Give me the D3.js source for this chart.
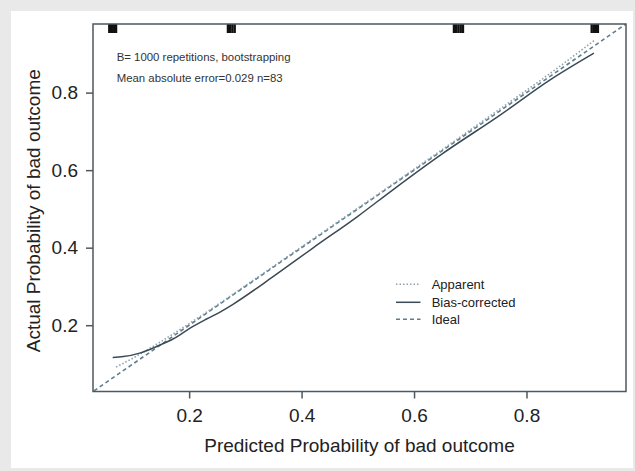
<!DOCTYPE html>
<html><head><meta charset="utf-8">
<script src="https://cdn.jsdelivr.net/npm/d3@7"></script>
<style>
html,body{margin:0;padding:0;background:#e9e9e9;}
svg{display:block;font-family:"Liberation Sans",Arial,sans-serif;}
</style></head>
<body>
<script>
// ---- data ----
const xTicks = [0.2, 0.4, 0.6, 0.8];
const yTicks = [0.2, 0.4, 0.6, 0.8];
const apparentX = [0.07, 0.10, 0.15, 0.20, 0.27, 0.35, 0.45, 0.55, 0.65, 0.75, 0.85, 0.92];
const apparentY = [0.092, 0.115, 0.158, 0.204, 0.272, 0.352, 0.452, 0.552, 0.653, 0.755, 0.858, 0.934];
const biasX = [0.064, 0.083, 0.112, 0.142, 0.172, 0.201, 0.231, 0.255, 0.278, 0.35, 0.42, 0.50, 0.563, 0.65, 0.753, 0.842, 0.92];
const biasY = [0.117, 0.119, 0.128, 0.145, 0.165, 0.192, 0.216, 0.234, 0.254, 0.326, 0.399, 0.481, 0.550, 0.642, 0.742, 0.833, 0.902];
const idealX = [0, 1];
const rugX = [0.058, 0.061, 0.064, 0.067, 0.070, 0.269, 0.273, 0.277, 0.281,
              0.671, 0.675, 0.679, 0.683, 0.687, 0.916, 0.920, 0.924, 0.927];
const legendLabels = ["Apparent", "Bias-corrected", "Ideal"];
const annotations = ["B= 1000 repetitions, bootstrapping", "Mean absolute error=0.029 n=83"];
const xTitle = "Predicted Probability of bad outcome";
const yTitle = "Actual Probability of bad outcome";

const W = 635, H = 471;
const svg = d3.select("body").append("svg").attr("width", W).attr("height", H);
svg.append("rect").attr("x", 0).attr("y", 0).attr("width", W).attr("height", H).attr("fill", "#e9e9e9");
svg.append("rect").attr("x", 11).attr("y", 11).attr("width", 622).attr("height", 457).attr("fill", "#ffffff");

const L = 93, R = 626, T = 24, B = 391.5;
const x = d3.scaleLinear().domain([0.029, 0.977]).range([L, R]);
const y = d3.scaleLinear().domain([0.029, 0.977]).range([B, T]);

const frameCol = "#4d5860";
const textCol = "#222";

svg.append("clipPath").attr("id", "clip").append("rect")
  .attr("x", L).attr("y", T).attr("width", R - L).attr("height", B - T);

const g = svg.append("g").attr("clip-path", "url(#clip)");

// ideal
g.append("path")
  .datum(idealX)
  .attr("d", d3.line().x(d => x(d)).y(d => y(d)))
  .attr("fill", "none").attr("stroke", "#5f7d8c").attr("stroke-width", 1.6)
  .attr("stroke-dasharray", "4,3");

// apparent
g.append("path")
  .datum(apparentX.map((v, i) => [v, apparentY[i]]))
  .attr("d", d3.line().x(d => x(d[0])).y(d => y(d[1])).curve(d3.curveMonotoneX))
  .attr("fill", "none").attr("stroke", "#8da2b0").attr("stroke-width", 1.6)
  .attr("stroke-dasharray", "1.5,2");

// bias-corrected
g.append("path")
  .datum(biasX.map((v, i) => [v, biasY[i]]))
  .attr("d", d3.line().x(d => x(d[0])).y(d => y(d[1])).curve(d3.curveMonotoneX))
  .attr("fill", "none").attr("stroke", "#3b4a54").attr("stroke-width", 1.5);

// rug
g.selectAll("line.rug").data(rugX).enter().append("line")
  .attr("class", "rug")
  .attr("x1", d => x(d)).attr("x2", d => x(d))
  .attr("y1", T).attr("y2", T + 9)
  .attr("stroke", "#111").attr("stroke-width", 2.4);

// frame
svg.append("rect").attr("x", L).attr("y", T).attr("width", R - L).attr("height", B - T)
  .attr("fill", "none").attr("stroke", frameCol).attr("stroke-width", 1.5);

// axes
const xAxis = svg.append("g").attr("transform", `translate(0,${B})`)
  .call(d3.axisBottom(x).tickValues(xTicks).tickSize(7).tickPadding(10).tickFormat(d3.format(".1f")));
const yAxis = svg.append("g").attr("transform", `translate(${L},0)`)
  .call(d3.axisLeft(y).tickValues(yTicks).tickSize(7).tickPadding(8).tickFormat(d3.format(".1f")));
[xAxis, yAxis].forEach(a => {
  a.select(".domain").remove();
  a.selectAll(".tick line").attr("stroke", frameCol).attr("stroke-width", 1.5);
  a.selectAll(".tick text").attr("fill", textCol).style("font-size", "19px")
    .style("font-family", "'Liberation Sans', Arial, sans-serif");
});

// titles
svg.append("text").attr("x", (L + R) / 2).attr("y", 452).attr("text-anchor", "middle")
  .attr("fill", textCol).style("font-size", "19px").text(xTitle);
svg.append("text").attr("transform", `translate(39.5,${(T + B) / 2 + 3}) rotate(-90)`)
  .attr("text-anchor", "middle").attr("fill", textCol).style("font-size", "19px").text(yTitle);

// annotations
svg.selectAll("text.ann").data(annotations).enter().append("text")
  .attr("class", "ann")
  .attr("x", 116.7).attr("y", (d, i) => 61.3 + i * 21)
  .attr("fill", "#333").style("font-size", "11.4px").text(d => d);

// legend
const legY = [284.3, 302.3, 319.3];
const legStyle = [
  {stroke: "#8da2b0", dash: "1.5,2", w: 1.6},
  {stroke: "#3b4a54", dash: null, w: 1.5},
  {stroke: "#5f7d8c", dash: "4,3", w: 1.6}
];
const leg = svg.append("g");
legendLabels.forEach((lab, i) => {
  leg.append("line").attr("x1", 396).attr("x2", 420.5).attr("y1", legY[i]).attr("y2", legY[i])
    .attr("stroke", legStyle[i].stroke).attr("stroke-width", legStyle[i].w)
    .attr("stroke-dasharray", legStyle[i].dash);
  leg.append("text").attr("x", 431.7).attr("y", legY[i]).attr("dy", "0.35em")
    .attr("fill", textCol).style("font-size", "13px").text(lab);
});
</script>
</body></html>
